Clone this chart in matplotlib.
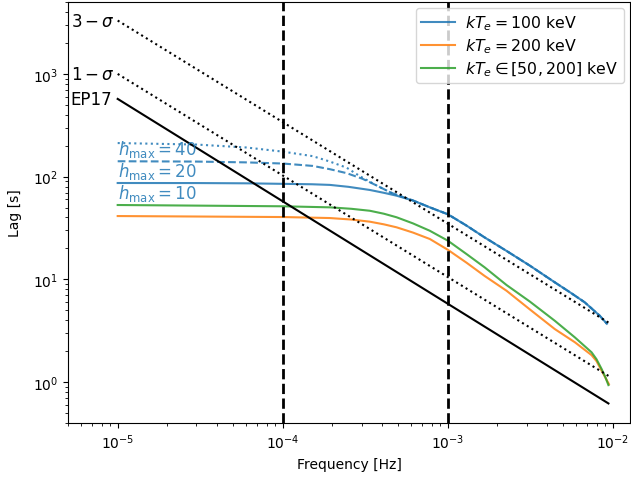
#!/usr/bin/env python3
"""
Lag-frequency spectra vs. the EP17 measurement and its 1/3-sigma upper limits.
Log-log axes, vertical markers at 1e-4 and 1e-3 Hz.
"""

import matplotlib
matplotlib.use("Agg")
import matplotlib.pyplot as plt

# ==============================
# Data
# ==============================

# kTe = 100 keV, h_max = 10 (solid)
freq_h10 = [1e-5, 3e-5, 6e-5, 1e-4, 1.5e-4, 1.93e-4, 2.5e-4, 3.37e-4, 4.1e-4,
            4.89e-4, 6.16e-4, 7.78e-4, 1e-3, 1.3e-3, 1.67e-3, 2.27e-3, 3.14e-3,
            4.45e-3, 5.5e-3, 6.76e-3, 8.33e-3, 9.2e-3]
lag_h10 = [86.6, 86.5, 86.0, 85.0, 84.2, 83.0, 79.5, 74.1, 69.5,
           65.2, 58.5, 50.2, 43.0, 33.3, 25.6, 18.9, 13.6,
           9.35, 7.48, 5.97, 4.42, 3.7]

# kTe = 100 keV, h_max = 20 (dashed)
freq_h20 = [1e-5, 3e-5, 6e-5, 1e-4, 1.52e-4, 1.93e-4, 2.44e-4, 3.05e-4, 3.7e-4,
            4.5e-4, 5.33e-4, 6.16e-4, 7.78e-4, 1e-3, 1.3e-3, 1.67e-3, 2.27e-3,
            3.14e-3, 4.45e-3, 5.5e-3, 6.76e-3, 8.33e-3, 9.2e-3]
lag_h20 = [141, 140, 137.5, 134, 127, 118, 108, 95, 82,
           70, 63.3, 58.5, 50.2, 43.0, 33.3, 25.6, 18.9,
           13.6, 9.35, 7.48, 5.97, 4.42, 3.7]

# kTe = 100 keV, h_max = 40 (dotted)
freq_h40 = [1e-5, 3e-5, 6e-5, 1e-4, 1.52e-4, 1.93e-4, 2.44e-4, 2.93e-4, 3.7e-4,
            4.5e-4, 5.33e-4, 6.16e-4, 7.78e-4, 1e-3, 1.3e-3, 1.67e-3, 2.27e-3,
            3.14e-3, 4.45e-3, 5.5e-3, 6.76e-3, 8.33e-3, 9.2e-3]
lag_h40 = [212, 205, 192, 175, 158, 140, 122, 101, 82,
           70, 63.3, 58.5, 50.2, 43.0, 33.3, 25.6, 18.9,
           13.6, 9.35, 7.48, 5.97, 4.42, 3.7]

# kTe = 200 keV
freq_200 = [1e-5, 1e-4, 1.93e-4, 2.6e-4, 3.37e-4, 4.1e-4, 4.89e-4, 6.16e-4,
            7.78e-4, 1e-3, 1.3e-3, 1.67e-3, 2.27e-3, 3.14e-3, 4.45e-3, 5.89e-3,
            7.43e-3, 7.96e-3, 8.55e-3, 9.46e-3]
lag_200 = [41.3, 40.4, 39.5, 38.2, 36.4, 34.3, 32.1, 28.5,
           24.7, 19.4, 14.5, 10.8, 7.74, 5.10, 3.28, 2.44,
           1.83, 1.6, 1.29, 0.957]

# kTe in [50, 200] keV
freq_range = [1e-5, 1e-4, 1.93e-4, 2.6e-4, 3.37e-4, 4.1e-4, 4.89e-4, 6.16e-4,
              7.78e-4, 1e-3, 1.3e-3, 1.67e-3, 2.27e-3, 3.14e-3, 4.45e-3, 5.89e-3,
              7.43e-3, 7.96e-3, 8.55e-3, 9.0e-3, 9.4e-3]
lag_range = [52.9, 51.4, 50.2, 48.6, 46.5, 43.5, 40.2, 35.0,
             29.7, 23.8, 17.6, 13.1, 8.8, 6.08, 3.95, 2.72,
             1.95, 1.67, 1.34, 1.12, 0.935]

# EP17 and upper limits (straight power laws)
freq_ref = [1e-5, 9.4e-3]
lag_ep17 = [570, 0.62]
lag_1sig = [998, 1.15]
lag_3sig = [3300, 3.8]

vlines_freq = [1e-4, 1e-3]

hmax_labels = [r"$h_{\rm max}=40$", r"$h_{\rm max}=20$", r"$h_{\rm max}=10$"]
hmax_label_lag = [166, 102, 62]

# ==============================
# Plot
# ==============================

C_BLUE = "C0"
ALPHA = 0.85

fig = plt.figure(figsize=(6.31, 4.81), dpi=100)
ax = fig.add_axes([68 / 631, 57 / 481, 562 / 631, 421 / 481])

ax.plot(freq_h10, lag_h10, color=C_BLUE, alpha=ALPHA, lw=1.5,
        label=r"$kT_e = 100$ keV")
ax.plot(freq_h20, lag_h20, color=C_BLUE, alpha=ALPHA, lw=1.5, ls="--")
ax.plot(freq_h40, lag_h40, color=C_BLUE, alpha=ALPHA, lw=1.5, ls=":")
ax.plot(freq_200, lag_200, color="C1", alpha=ALPHA, lw=1.5,
        label=r"$kT_e = 200$ keV")
ax.plot(freq_range, lag_range, color="C2", alpha=ALPHA, lw=1.5,
        label=r"$kT_e \in [50, 200]$ keV")

ax.plot(freq_ref, lag_ep17, color="k", lw=1.5)
ax.plot(freq_ref, lag_1sig, color="k", lw=1.5, ls=":")
ax.plot(freq_ref, lag_3sig, color="k", lw=1.5, ls=":")

for f in vlines_freq:
    ax.axvline(f, color="k", ls="--", lw=2)

# labels next to the reference lines
ax.text(5.2e-6, lag_3sig[0], r"$3-\sigma$", fontsize=12, ha="left", va="center")
ax.text(5.2e-6, lag_1sig[0], r"$1-\sigma$", fontsize=12, ha="left", va="center")
ax.text(5.2e-6, lag_ep17[0], "EP17", fontsize=12, ha="left", va="center")

for txt, y in zip(hmax_labels, hmax_label_lag):
    ax.text(1e-5, y, txt, fontsize=12, color=C_BLUE, alpha=ALPHA,
            ha="left", va="baseline")

ax.set_xscale("log")
ax.set_yscale("log")
ax.set_xlim(5e-6, 1.27e-2)
ax.set_ylim(0.4, 5000)
ax.set_xlabel("Frequency [Hz]")
ax.set_ylabel("Lag [s]", labelpad=8)
ax.legend(loc="upper right", fontsize=11.3, handlelength=2.17,
          handletextpad=0.64, borderpad=0.35, labelspacing=0.26,
          borderaxespad=0.4)

fig.savefig("out.png", dpi=100)
